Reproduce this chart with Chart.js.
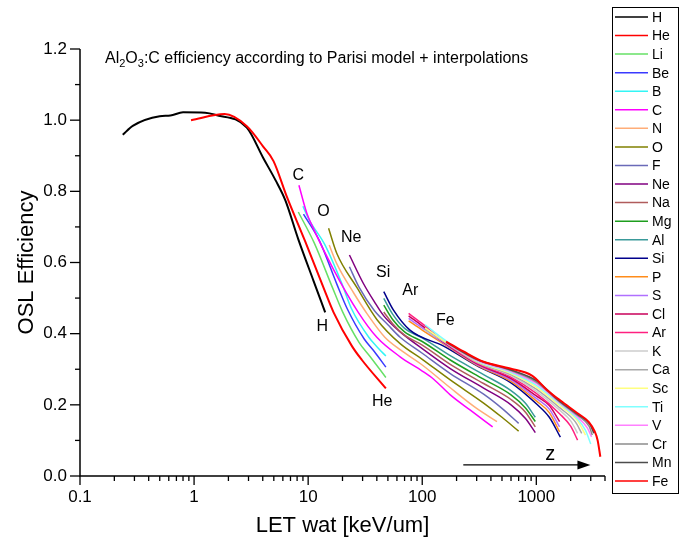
<!DOCTYPE html>
<html>
<head>
<meta charset="utf-8">
<script src="https://cdn.jsdelivr.net/npm/chart.js@4"></script>
<style>
html, body { margin: 0; padding: 0; background: #fff; }
#c { display: block; }
</style>
</head>
<body>
<canvas id="c" width="682" height="545"></canvas>
<script>
// OSL efficiency of Al2O3:C vs LET in water, one curve per ion
// each point is [LET keV/um, efficiency]
const H  = [[0.237,0.959],[0.29,0.984],[0.5,1.011],[0.62,1.013],[0.8,1.022],[1.25,1.021],[1.53,1.015],[2.9,0.979],[4.05,0.893],[5.2,0.83],[6.3,0.775],[8.2,0.665],[11.1,0.55],[14.1,0.46]];
const He = [[0.94,1.0],[1.85,1.017],[2.9,0.983],[4.05,0.925],[4.97,0.885],[6.5,0.785],[9.4,0.66],[13.6,0.53],[16.7,0.46],[24.2,0.365],[29.6,0.326],[48,0.246]];
const Li = [[8.2,0.742],[11.3,0.655],[16.3,0.53],[20,0.462],[28,0.375],[35,0.335],[48,0.277]];
const Be = [[9.1,0.736],[12.6,0.66],[17.8,0.54],[22,0.47],[31,0.385],[38,0.35],[48,0.306]];
const B  = [[9.0,0.758],[10.2,0.72],[14,0.65],[19.5,0.545],[24,0.47],[34,0.39],[41,0.36],[48,0.337]];
const C  = [[8.3,0.817],[9.7,0.74],[10.6,0.71],[16.7,0.58],[27.5,0.46],[40,0.39],[64,0.335],[100,0.295],[126,0.272],[176,0.228],[264,0.185],[414,0.138]];
const N  = [[15.3,0.649],[17.8,0.597],[25,0.515],[33,0.455],[47,0.39],[64,0.355],[100,0.312],[176,0.248],[300,0.19],[452,0.153]];
const O  = [[15.1,0.696],[17.8,0.626],[26.7,0.53],[40,0.44],[64,0.372],[100,0.328],[176,0.27],[345,0.205],[500,0.165],[700,0.126]];
const F  = [[23,0.588],[28,0.53],[38,0.465],[50,0.425],[64,0.39],[100,0.345],[176,0.288],[345,0.23],[500,0.19],[700,0.148]];
const Ne = [[23,0.621],[30.5,0.541],[38,0.49],[46,0.45],[64,0.405],[100,0.358],[176,0.302],[345,0.247],[600,0.2],[800,0.162],[980,0.122]];
const Na = [[46,0.461],[55,0.428],[70,0.396],[100,0.368],[176,0.314],[345,0.26],[600,0.215],[800,0.18],[980,0.138]];
const Mg = [[46,0.48],[55,0.44],[70,0.405],[100,0.378],[176,0.326],[345,0.272],[600,0.228],[800,0.192],[980,0.153]];
const Al = [[46,0.499],[55,0.455],[70,0.415],[100,0.388],[176,0.338],[345,0.285],[600,0.24],[800,0.205],[980,0.165]];
const Si = [[46,0.518],[56,0.466],[78,0.41],[154,0.365],[300,0.31],[600,0.262],[1000,0.203],[1300,0.165],[1625,0.109]];
const P  = [[76,0.436],[100,0.41],[160,0.368],[300,0.312],[600,0.266],[1000,0.211],[1300,0.178],[1600,0.124]];
const S  = [[76,0.443],[100,0.416],[160,0.37],[300,0.314],[600,0.27],[1000,0.218],[1300,0.188],[1600,0.138]];
const Cl = [[76,0.45],[100,0.422],[160,0.372],[300,0.316],[600,0.274],[1000,0.225],[1300,0.198],[1600,0.153]];
const Ar = [[76,0.457],[100,0.428],[160,0.374],[300,0.318],[600,0.278],[1000,0.232],[1600,0.175],[2000,0.14],[2300,0.101]];
const K  = [[106,0.41],[160,0.375],[300,0.32],[600,0.282],[1000,0.238],[1600,0.185],[2000,0.155],[2300,0.12]];
const Ca = [[106,0.413],[160,0.376],[300,0.321],[600,0.285],[1000,0.244],[1600,0.192],[2200,0.152],[2500,0.12]];
const Sc = [[106,0.416],[160,0.377],[300,0.322],[600,0.288],[1000,0.25],[1600,0.198],[2300,0.155],[2700,0.115]];
const Ti = [[106,0.425],[160,0.381],[300,0.324],[600,0.291],[1000,0.255],[1600,0.203],[2300,0.16],[2700,0.128],[3000,0.09]];
const V  = [[162,0.374],[300,0.325],[600,0.294],[1000,0.26],[1600,0.206],[2300,0.166],[2800,0.135],[3050,0.11]];
const Cr = [[162,0.375],[300,0.327],[600,0.296],[1000,0.264],[1600,0.208],[2300,0.17],[2900,0.14],[3100,0.115]];
const Mn = [[162,0.376],[300,0.328],[600,0.298],[1000,0.268],[1600,0.21],[2300,0.173],[2950,0.145],[3200,0.12]];
const Fe = [[162,0.378],[230,0.35],[345,0.321],[590,0.302],[916,0.282],[1240,0.242],[1625,0.212],[2280,0.177],[2880,0.152],[3250,0.125],[3450,0.1],[3640,0.054]];

const ions   = ['H','He','Li','Be','B','C','N','O','F','Ne','Na','Mg','Al','Si','P','S','Cl','Ar','K','Ca','Sc','Ti','V','Cr','Mn','Fe'];
const curves = [H, He, Li, Be, B, C, N, O, F, Ne, Na, Mg, Al, Si, P, S, Cl, Ar, K, Ca, Sc, Ti, V, Cr, Mn, Fe];
const colors = ['#000000','#ff0000','#66e066','#3a3aff','#33f5f5','#ff00ff','#ffad78','#808000','#6a6ab8','#800080',
                '#b05c5c','#1e9e1e','#3a9a9a','#00008b','#ff8c1a','#b070ff','#c8005a','#ff2080','#cccccc','#a8a8a8',
                '#ffff80','#80ffff','#ff80ff','#8c8c8c','#4d4d4d','#ff0000'];

const xMajor = [0.1, 1, 10, 100, 1000];
const yTicks = [0, 0.2, 0.4, 0.6, 0.8, 1.0, 1.2];

// text put next to some of the curves: [text, LET, efficiency]
const curveLabels = [['C',8.2,0.843],['O',13.6,0.742],['Ne',23.8,0.671],['Si',45.5,0.573],['Ar',78.5,0.52],
                     ['Fe',159,0.438],['H',13.3,0.421],['He',44.6,0.208]];

const FONT = 'Liberation Sans, Arial, sans-serif';

const datasets = curves.map((pts, i) => ({
  label: ions[i],
  data: pts.map(p => ({ x: p[0], y: p[1] })),
  borderColor: colors[i],
  borderWidth: (i === 0 || i === 1 || i === 25) ? 2 : 1.5,
  pointRadius: 0,
  showLine: true,
  fill: false,
  cubicInterpolationMode: 'monotone',
  order: ions.length - i
}));

const decor = {
  id: 'decor',
  afterDraw(chart) {
    const ctx = chart.ctx, xs = chart.scales.x, ys = chart.scales.y, a = chart.chartArea;
    ctx.save();
    ctx.strokeStyle = '#000';
    ctx.fillStyle = '#000';
    ctx.lineWidth = 1.5;

    // axis lines
    ctx.beginPath();
    ctx.moveTo(a.left, a.top); ctx.lineTo(a.left, a.bottom); ctx.lineTo(a.right, a.bottom);
    ctx.stroke();

    // x ticks, major and minor
    ctx.lineWidth = 1.3;
    for (let d = -1; d <= 3; d++) {
      for (let m = 1; m <= 9; m++) {
        const v = m * Math.pow(10, d);
        if (v > 4000.001) break;
        const px = xs.getPixelForValue(v);
        ctx.beginPath();
        ctx.moveTo(px, a.bottom); ctx.lineTo(px, a.bottom + (m === 1 ? 9 : 5));
        ctx.stroke();
      }
    }
    // y ticks
    for (let i = 0; i <= 12; i++) {
      const py = ys.getPixelForValue(i / 10);
      ctx.beginPath();
      ctx.moveTo(a.left, py); ctx.lineTo(a.left - (i % 2 === 0 ? 10 : 5), py);
      ctx.stroke();
    }

    // axis titles
    ctx.font = '22px ' + FONT;
    ctx.textAlign = 'center';
    ctx.textBaseline = 'middle';
    ctx.fillText('LET wat [keV/um]', (a.left + a.right) / 2, 526);
    ctx.save();
    ctx.translate(27, (a.top + a.bottom) / 2);
    ctx.rotate(-Math.PI / 2);
    ctx.fillText('OSL Efficiency', 0, 0);
    ctx.restore();

    // title inside the plot, with subscripts
    let tx = 105;
    const base = 63;
    const parts = [['Al', 0], ['2', 1], ['O', 0], ['3', 1], [':C efficiency according to Parisi model + interpolations', 0]];
    ctx.textAlign = 'left';
    ctx.textBaseline = 'alphabetic';
    for (const [t, sub] of parts) {
      ctx.font = (sub ? '11px ' : '16px ') + FONT;
      ctx.fillText(t, tx, base + (sub ? 3.5 : 0));
      tx += ctx.measureText(t).width;
    }

    // curve names
    ctx.font = '16px ' + FONT;
    ctx.textAlign = 'center';
    ctx.textBaseline = 'middle';
    for (const [t, lx, ly] of curveLabels) {
      ctx.fillText(t, xs.getPixelForValue(lx), ys.getPixelForValue(ly));
    }

    // z arrow
    const ay = ys.getPixelForValue(0.031);
    const ax0 = xs.getPixelForValue(229), ax1 = xs.getPixelForValue(2980);
    ctx.lineWidth = 1.3;
    ctx.beginPath(); ctx.moveTo(ax0, ay); ctx.lineTo(ax1 - 10, ay); ctx.stroke();
    ctx.beginPath(); ctx.moveTo(ax1, ay); ctx.lineTo(ax1 - 13, ay - 4.5); ctx.lineTo(ax1 - 13, ay + 4.5); ctx.closePath(); ctx.fill();
    ctx.font = '20px ' + FONT;
    ctx.fillText('z', xs.getPixelForValue(1327), ys.getPixelForValue(0.06));

    // legend box
    const lx0 = 612, ly0 = 7, lw = 66, lh = 486;
    ctx.lineWidth = 1;
    ctx.strokeRect(lx0 + 0.5, ly0 + 0.5, lw, lh);
    ctx.font = '14px ' + FONT;
    ctx.textAlign = 'left';
    ctx.textBaseline = 'middle';
    chart.data.datasets.forEach((ds, i) => {
      const y = 17 + i * 18.56;
      ctx.strokeStyle = ds.borderColor;
      ctx.lineWidth = 1.5;
      ctx.beginPath(); ctx.moveTo(615, y); ctx.lineTo(648, y); ctx.stroke();
      ctx.fillStyle = '#000';
      ctx.fillText(ds.label, 652, y + 1);
    });
    ctx.restore();
  }
};

new Chart(document.getElementById('c'), {
  type: 'scatter',
  data: { datasets },
  options: {
    responsive: false,
    devicePixelRatio: 1,
    animation: false,
    layout: { padding: { left: 0, right: 77, top: 49, bottom: 0 } },
    plugins: { legend: { display: false }, tooltip: { enabled: false } },
    scales: {
      x: {
        type: 'logarithmic', min: 0.1, max: 4000,
        grid: { display: false, drawTicks: false },
        border: { display: false },
        afterBuildTicks: s => { s.ticks = xMajor.map(v => ({ value: v })); },
        ticks: {
          autoSkip: false, maxRotation: 0, padding: 11,
          color: '#000', font: { family: FONT, size: 17 },
          callback: v => String(Number(v.toPrecision(6)))
        },
        afterFit: s => { s.height = 69; }
      },
      y: {
        min: 0, max: 1.2,
        grid: { display: false, drawTicks: false },
        border: { display: false },
        afterBuildTicks: s => { s.ticks = yTicks.map(v => ({ value: v })); },
        ticks: {
          padding: 13, color: '#000', font: { family: FONT, size: 17 },
          callback: v => Number(v).toFixed(1)
        },
        afterFit: s => { s.width = 80; }
      }
    }
  },
  plugins: [decor]
});
</script>
</body>
</html>
